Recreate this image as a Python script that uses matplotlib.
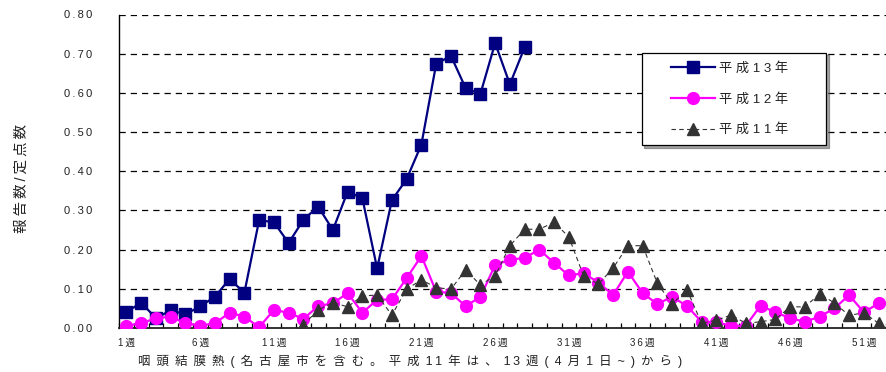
import matplotlib
matplotlib.use("Agg")
import matplotlib.pyplot as plt
from matplotlib.legend_handler import HandlerLine2D

plt.rcParams['font.family'] = ['Liberation Sans', 'Noto Sans CJK JP', 'DejaVu Sans']

# ---- data ----
weeks_h13 = list(range(1, 29))
h13 = [0.040, 0.065, 0.025, 0.045, 0.035, 0.055, 0.080, 0.125, 0.090, 0.275,
       0.270, 0.217, 0.276, 0.310, 0.250, 0.348, 0.331, 0.152, 0.326, 0.380,
       0.468, 0.673, 0.695, 0.612, 0.597, 0.727, 0.622, 0.716]

weeks_h12 = list(range(1, 53))
h12 = [0.006, 0.012, 0.025, 0.029, 0.012, 0.006, 0.012, 0.039, 0.029, 0.002,
       0.046, 0.039, 0.023, 0.056, 0.063, 0.089, 0.039, 0.072, 0.073, 0.127,
       0.184, 0.093, 0.089, 0.056, 0.079, 0.161, 0.174, 0.179, 0.200, 0.166,
       0.134, 0.140, 0.116, 0.084, 0.144, 0.089, 0.061, 0.080, 0.056, 0.016,
       0.015, 0.005, 0.006, 0.057, 0.040, 0.025, 0.016, 0.029, 0.050, 0.084,
       0.040, 0.063]

weeks_h11 = list(range(13, 53))
h11 = [0.008, 0.046, 0.065, 0.054, 0.082, 0.084, 0.033, 0.099, 0.123, 0.103,
       0.099, 0.148, 0.110, 0.133, 0.210, 0.252, 0.252, 0.270, 0.232, 0.133,
       0.112, 0.153, 0.210, 0.210, 0.114, 0.061, 0.098, 0.012, 0.020, 0.033,
       0.012, 0.016, 0.022, 0.054, 0.054, 0.087, 0.064, 0.032, 0.039, 0.012]

series_labels = ['平 成 1 3 年', '平 成 1 2 年', '平 成 1 1 年']
xtick_weeks = [1, 6, 11, 16, 21, 26, 31, 36, 41, 46, 51]
xtick_labels = ['1週', '6週', '11週', '16週', '21週', '26週', '31週', '36週', '41週', '46週', '51週']
yticks = [0.0, 0.1, 0.2, 0.3, 0.4, 0.5, 0.6, 0.7, 0.8]
ytick_labels = ['0.00', '0.10', '0.20', '0.30', '0.40', '0.50', '0.60', '0.70', '0.80']
ylabel = '報告数/定点数'
title = '咽頭結膜熱(名古屋市を含む。平成11年は、13週(4月1日~)から)'

W, H = 886, 372
fig = plt.figure(figsize=(W / 100, H / 100), dpi=100)
ax = fig.add_axes([119 / W, 44 / H, (886 - 119) / W, 313.5 / H])

l13, = ax.plot(weeks_h13, h13, color='#000080', lw=1.6, marker='s', ms=8.5,
               mfc='#000080', mec='#000080', zorder=3, label=series_labels[0])
l12, = ax.plot(weeks_h12, h12, color='#FF00FF', lw=1.6, marker='o', ms=8.5,
               mfc='#FF00FF', mec='#FF00FF', zorder=4, label=series_labels[1])
l11, = ax.plot(weeks_h11, h11, color='#333333', lw=0.8, ls=(0, (4, 3)), marker='^', ms=8.5,
               mfc='#333333', mec='#333333', zorder=5, label=series_labels[2])

ax.set_xlim(0.5, 0.5 + 767 / 14.84)
ax.set_ylim(0, 0.8)


def spaced(s, sep='\u2009'):
    return sep.join(list(s))


def spaced_title(s):
    out = []
    for i, ch in enumerate(s):
        out.append(ch)
        if i < len(s) - 1:
            nxt = s[i + 1]
            if ch.isdigit() and nxt.isdigit():
                out.append('\u2009')
                continue
            out.append(' \u2009')
    return ''.join(out)


# y axis
ax.set_yticks(yticks)
ax.set_yticklabels([spaced(s) for s in ytick_labels], fontsize=8, color='#222222')
ax.tick_params(axis='y', length=0, pad=19)
for y in yticks[1:]:
    ax.axhline(y, color='black', lw=0.9, ls=(0, (5, 4)), zorder=1)

# x axis: boundary ticks (major) + labels at weeks (minor)
ax.set_xticks([w + 0.5 for w in range(0, 53)])
ax.set_xticklabels([])
ax.tick_params(axis='x', which='major', direction='in', length=3.5, width=0.9, color='black')
ax.set_xticks(xtick_weeks, minor=True)
ax.set_xticklabels([spaced(s) for s in xtick_labels], minor=True, fontsize=7, color='#222222')
ax.tick_params(axis='x', which='minor', length=0, pad=7)

for s in ['top', 'right']:
    ax.spines[s].set_visible(False)
ax.spines['left'].set_linewidth(1.0)
ax.spines['bottom'].set_linewidth(1.3)
ax.spines['bottom'].set_color('#222222')

fig.text(22 / W, 1 - 178 / H, spaced(ylabel), rotation=90, ha='center', va='center',
         fontsize=10.5, color='#222222')
fig.text(410 / W, 1 - 361 / H, spaced_title(title), ha='center', va='center', fontsize=9,
         color='#222222')


class ShiftedHandler(HandlerLine2D):
    def __init__(self, shift, **kw):
        super().__init__(**kw)
        self.shift = shift

    def create_artists(self, legend, orig_handle, xdescent, ydescent, width, height, fontsize, trans):
        s = self.shift * fontsize
        return super().create_artists(legend, orig_handle, xdescent - s, ydescent,
                                      width - s, height, fontsize, trans)


fs = 9.5
leg = fig.legend(handles=[l13, l12, l11], labels=[l + ' ' * 8 for l in series_labels],
                 loc='upper left',
                 bbox_to_anchor=(641.7 / W, 1 - 52.7 / H), borderaxespad=0,
                 fontsize=fs, frameon=True, fancybox=False, shadow=True,
                 handlelength=4.85, handletextpad=0.3, borderpad=0.7,
                 labelspacing=1.36, numpoints=1,
                 handler_map={l13: ShiftedHandler(1.5), l12: ShiftedHandler(1.5),
                              l11: ShiftedHandler(1.5)})
frame = leg.get_frame()
frame.set_edgecolor('black')
frame.set_linewidth(0.9)
for t in leg.get_texts():
    t.set_color('#222222')

fig.savefig('out.png', dpi=100)
